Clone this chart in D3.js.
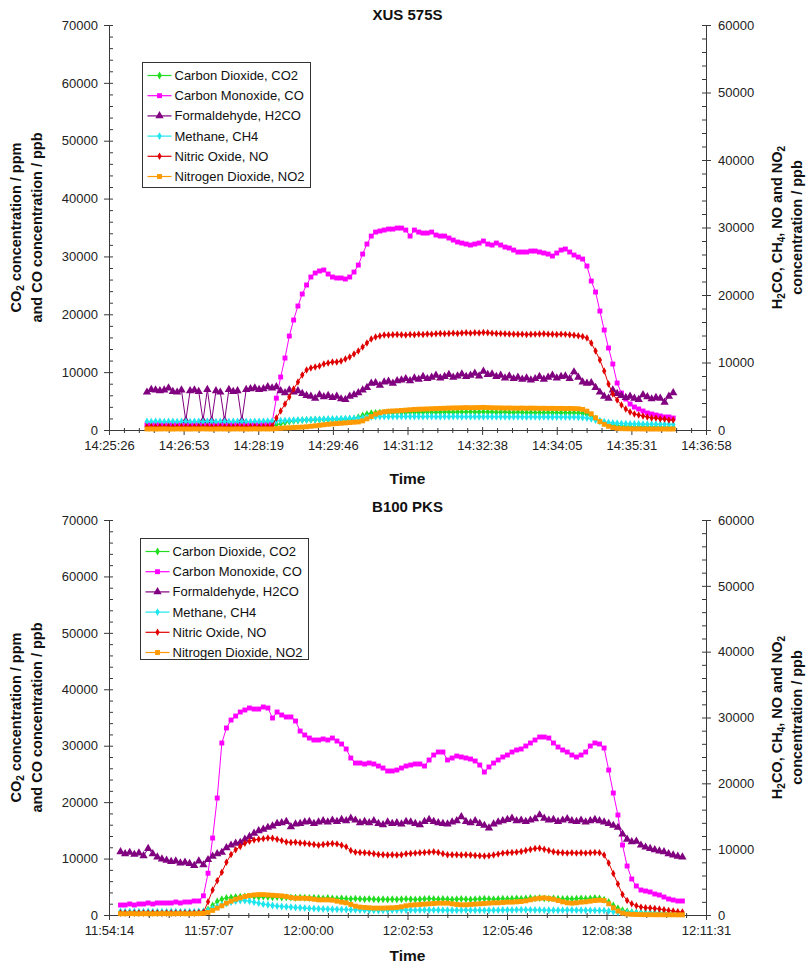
<!DOCTYPE html>
<html>
<head>
<meta charset="utf-8">
<script src="https://cdn.jsdelivr.net/npm/d3@7"></script>
<style>
  body { margin: 0; background: #fff; }
  svg { display: block; font-family: "Liberation Sans", Arial, sans-serif; }
</style>
</head>
<body>
<svg id="chart" width="810" height="970"></svg>
<script>
// ---------------- data ----------------
const seriesNames = ["Carbon Dioxide, CO2", "Carbon Monoxide, CO", "Formaldehyde, H2CO",
                     "Methane, CH4", "Nitric Oxide, NO", "Nitrogen Dioxide, NO2"];
const leftTicks = [0, 10000, 20000, 30000, 40000, 50000, 60000, 70000];
const rightTicks = [0, 10000, 20000, 30000, 40000, 50000, 60000];

// XUS 575S run (sampled every 5 s from 14:26:10)
const xusTitle = "XUS 575S";
const xusTimeLabels = ["14:25:26", "14:26:53", "14:28:19", "14:29:46", "14:31:12",
                       "14:32:38", "14:34:05", "14:35:31", "14:36:58"];
const xusStart = "14:26:10";
const xusStep = 5;
const xusCO2 = [500,520,510,500,520,530,510,500,520,510,
  500,520,510,530,500,510,520,500,510,520,
  500,510,530,520,510,500,520,510,530,600,
  900,1100,1300,1450,1550,1650,1700,1720,1750,1760,
  1780,1800,1780,1810,1800,1820,1850,1870,1950,2200,
  2500,2750,2900,2950,3000,2980,3020,3000,3050,3030,
  3000,3050,3080,3040,3060,3100,3070,3050,3080,3100,
  3120,3080,3100,3130,3100,3150,3120,3100,3140,3120,
  3100,3080,3060,3090,3050,3030,3060,3040,3010,3030,
  3000,3020,2990,3010,2980,3000,2970,2990,2960,2980,
  2950,2900,2700,2400,2000,1500,1200,1000,850,750,
  680,620,600,580,560,540,520,500,480,470,
  460,450,440];
const xusCO = [900,880,920,900,870,900,910,890,900,930,
  900,880,900,910,900,890,920,900,880,900,
  910,900,920,900,890,900,910,930,950,1200,
  5500,9160,12440,16240,19010,21430,23500,25060,26440,27130,
  27480,27650,26960,26440,26270,26270,26090,26440,27300,28510,
  30410,32140,33520,34210,34390,34560,34730,34730,34900,34900,
  34560,33520,34560,34210,34040,34040,34210,33700,33520,33520,
  33180,32830,32490,32310,32140,31970,32140,32310,32660,32140,
  31970,32310,31970,31620,31450,31100,30760,30760,30760,30930,
  30930,30760,30590,30410,30070,30590,31100,31280,30760,30240,
  29890,29550,28340,25750,23850,20560,17280,14170,11400,8120,
  6390,5360,4490,3970,3630,3280,2940,2760,2590,2420,
  2250,2250,2070];
const xusH2CO = [5600,6000,5900,5800,5900,6200,5700,5600,5900,1400,
  5800,5900,5700,1400,6000,1400,5800,5600,1400,6000,
  5700,5800,1400,6000,6100,6200,6000,6100,6400,6200,
  6400,5800,5500,5900,5600,5800,5400,5100,5000,4700,
  5200,4900,5100,4800,5000,4600,4500,5000,5200,5500,
  5900,6300,6900,7000,6600,7100,7200,6900,7300,7400,
  7600,7300,7700,7500,7900,7600,7800,8100,7700,7900,
  8200,7800,8000,8300,7900,8100,8400,8000,8700,8200,
  8300,7900,8100,7700,8000,7600,7800,7500,7700,7400,
  7600,7900,7500,7800,8100,7700,7900,8000,7600,8600,
  7800,7100,6900,7000,6300,5600,5000,4700,5900,5400,
  5100,4800,5000,4700,4500,5200,4900,4600,4800,4700,
  4100,5000,5500];
const xusCH4 = [1250,1230,1280,1250,1220,1260,1250,1240,1270,1250,
  1230,1260,1250,1240,1280,1250,1230,1260,1250,1240,
  1260,1250,1270,1250,1240,1260,1250,1280,1300,1320,
  1350,1380,1400,1420,1450,1470,1500,1520,1540,1560,
  1580,1600,1620,1640,1650,1670,1690,1700,1720,1750,
  1800,1900,1950,1980,2000,2000,1980,2000,2010,1990,
  2000,1990,2010,2000,1980,1990,2000,1980,1970,1990,
  1980,2000,1990,1970,1980,1960,1980,1970,1960,1980,
  1960,1950,1970,1960,1940,1950,1960,1940,1930,1950,
  1940,1930,1950,1930,1920,1930,1910,1920,1900,1910,
  1890,1850,1780,1650,1480,1350,1220,1120,1050,990,
  950,920,900,890,880,870,860,860,850,850,
  840,840,830];
const xusNO = [500,520,480,510,500,530,490,500,510,520,
  500,480,510,500,520,500,490,510,500,520,
  500,510,490,500,520,510,500,520,530,600,
  1780,2810,3850,4890,6070,7110,8150,8890,9180,9330,
  9480,9770,9920,10070,10070,10220,10520,10810,11260,11700,
  12290,12880,13480,13770,13920,14070,14070,14100,14150,14100,
  14070,14150,14100,14200,14150,14220,14200,14250,14300,14250,
  14300,14350,14300,14380,14400,14350,14420,14380,14450,14400,
  14350,14300,14280,14250,14220,14200,14180,14200,14150,14180,
  14200,14220,14250,14200,14180,14150,14200,14170,14100,14050,
  13950,13850,13630,12880,11700,10370,8740,6810,5330,4440,
  3700,3110,2670,2370,2220,2070,1930,1780,1780,1630,
  1630,1480,1480];
const xusNO2 = [150,160,140,150,170,150,140,160,150,150,
  140,160,150,170,150,140,150,160,150,140,
  150,160,150,140,150,170,150,160,150,160,
  200,250,300,330,370,400,430,480,550,620,
  700,780,850,900,950,1000,1050,1100,1150,1200,
  1350,1650,2000,2350,2550,2700,2780,2820,2850,2900,
  2950,3000,3050,3080,3100,3120,3150,3180,3200,3220,
  3250,3270,3280,3300,3320,3300,3310,3330,3350,3320,
  3300,3280,3270,3250,3260,3240,3230,3250,3220,3240,
  3230,3210,3220,3200,3210,3190,3200,3180,3190,3170,
  3150,3050,2800,2400,1800,1250,850,550,350,250,
  200,180,170,160,160,150,150,140,150,140,
  150,140,150];

// B100 PKS run (sampled every 8 s from 11:54:34)
const pksTitle = "B100 PKS";
const pksTimeLabels = ["11:54:14", "11:57:07", "12:00:00", "12:02:53",
                       "12:05:46", "12:08:38", "12:11:31"];
const pksStart = "11:54:34";
const pksStep = 8;
const pksCO2 = [400,420,380,400,410,390,400,420,400,380,
  400,410,400,390,420,400,410,450,600,1000,
  1700,2400,2800,3000,3100,3200,3250,3300,3300,3250,
  3200,3250,3200,3150,3200,3100,3150,3100,3050,3100,
  3050,3000,3050,3000,2950,3000,2950,2900,2950,2900,
  2850,2900,2850,2800,2850,2800,2750,2800,2750,2800,
  2750,2800,2850,2800,2750,2800,2850,2900,2850,2800,
  2850,2800,2750,2800,2850,2800,2750,2800,2850,2900,
  2850,2800,2850,2900,2850,2900,2950,2900,2950,3000,
  2950,3000,2950,2900,2950,2900,2850,2900,2850,2900,
  2950,2900,2950,3000,2950,2700,2300,1700,1200,850,
  650,500,450,420,400,380,370,350,340,330,
  320,310,300];
const pksCO = [1770,1770,1950,1770,1950,1950,2130,1950,2130,2130,
  2130,2130,2300,2130,2300,2300,2480,2480,3400,7400,
  13640,20730,30480,33140,34550,35260,35970,36330,36680,36500,
  36500,36860,36680,34910,35970,35440,35090,35090,34380,32600,
  31900,31360,31010,31010,31190,31010,31360,30830,30300,29420,
  27820,26930,26930,26760,26930,26760,26400,26050,25520,25520,
  25690,26050,26400,26580,26760,26760,26400,27470,28350,28880,
  28880,27470,27820,28170,28000,27820,27640,27290,26580,25340,
  26230,26930,27470,28000,28350,28880,29240,29420,29950,30480,
  31010,31540,31540,31360,30480,29770,29240,28880,28350,28000,
  28350,28880,29950,30480,30300,29590,25690,21620,17720,12400,
  8680,6380,5140,4430,4250,4080,3720,3540,3190,2840,
  2660,2480,2480];
const pksH2CO = [9600,9300,9500,9200,9400,9000,10100,9300,8800,8500,
  8300,8100,8200,7900,8000,7800,7500,8200,7600,8400,
  8900,9300,9500,10200,10600,10900,11000,11500,11900,12400,
  12800,13000,13300,13500,13900,14000,14200,13400,13800,13900,
  14100,14200,13900,14100,14300,14100,14400,14200,14500,14300,
  14700,14400,14000,14200,14000,14300,13900,13700,14100,13900,
  14000,13800,14200,14100,13900,13700,14200,14500,14200,14000,
  13900,13800,14100,14300,14900,14200,14000,14300,13900,13600,
  13200,13800,14100,14300,14500,14700,14300,14400,14200,14400,
  14600,15200,14700,14400,14500,14200,14400,14600,14300,14200,
  14400,14100,14300,14500,14300,14100,13900,13600,13300,12300,
  11500,11100,11200,10600,10300,10100,9900,9700,9600,9300,
  9100,8900,8800];
const pksCH4 = [550,500,520,540,500,510,530,500,520,510,
  500,530,520,500,510,520,500,530,550,700,
  1000,1300,1550,1750,1950,2100,2200,2200,2100,1950,
  1800,1650,1550,1450,1350,1300,1250,1200,1150,1100,
  1050,1000,980,950,920,900,880,860,850,830,
  800,780,760,740,720,700,690,700,720,740,
  760,770,760,750,740,750,760,770,760,750,
  740,730,720,730,740,750,740,730,720,710,
  720,730,740,750,760,770,780,790,800,780,
  760,750,740,730,720,730,740,750,760,740,
  730,720,710,700,690,680,600,500,420,380,
  350,340,330,320,310,300,300,290,280,280,
  270,260,250];
const pksNO = [300,320,280,300,310,290,300,320,300,280,
  300,310,300,290,320,300,310,350,400,2000,
  3800,5200,6500,8000,9200,9900,10400,10900,11200,11400,
  11500,11600,11700,11650,11500,11300,11100,11000,11050,10950,
  10900,10800,10700,10600,10700,10800,10850,10800,10600,10350,
  9800,9550,9500,9450,9400,9300,9200,9150,9100,9150,
  9100,9150,9300,9350,9400,9450,9500,9550,9600,9500,
  9300,9150,9150,9150,9100,9150,9100,9050,9000,8950,
  9000,9100,9250,9400,9450,9500,9550,9650,9800,9950,
  10100,10150,10000,9800,9600,9500,9450,9400,9450,9400,
  9450,9400,9450,9500,9450,9100,7900,6300,4700,3100,
  2200,1700,1400,1200,1100,1050,1000,900,800,700,
  600,500,450];
const pksNO2 = [200,180,220,200,190,210,200,180,200,220,
  200,190,200,210,200,190,200,220,250,400,
  700,1050,1400,1800,2100,2400,2600,2800,2950,3050,
  3100,3100,3050,3000,2950,2900,2800,2650,2550,2550,
  2550,2500,2400,2300,2300,2300,2250,2100,1950,1850,
  1600,1350,1200,1150,1100,1050,1050,1050,1080,1100,
  1150,1250,1400,1500,1550,1600,1650,1700,1750,1800,
  1800,1800,1700,1600,1550,1550,1600,1650,1700,1750,
  1800,1850,1850,1900,1950,1950,2000,2050,2150,2300,
  2450,2550,2600,2500,2400,2200,2000,1850,1800,1850,
  1950,2000,2100,2200,2250,2200,1700,1100,600,300,
  150,100,80,60,50,50,40,40,30,30,
  30,20,20];

// ---------------- styles ----------------
const seriesStyle = [
  { color: "#22dd22", shape: d3.symbolDiamond,  size: 18, axis: "L" },
  { color: "#ff00ff", shape: d3.symbolSquare,   size: 24, axis: "L" },
  { color: "#800080", shape: d3.symbolTriangle, size: 30, axis: "R" },
  { color: "#1fe6ee", shape: d3.symbolDiamond,  size: 18, axis: "R" },
  { color: "#e00000", shape: d3.symbolDiamond,  size: 16, axis: "R" },
  { color: "#ff9a00", shape: d3.symbolSquare,   size: 24, axis: "R" }
];
const axisColor = "#3a3a3a";
const textColor = "#222";

const toSec = s => { const [h, m, sec] = s.split(":").map(Number); return h * 3600 + m * 60 + sec; };

const svg = d3.select("#chart");

function drawChart(cfg) {
  const { title, timeLabels, start, step, series, top, bottom, left, right, legend, titleY, timeY } = cfg;
  const g = svg.append("g");

  const t0 = toSec(timeLabels[0]);
  const t1 = toSec(timeLabels[timeLabels.length - 1]);
  const x = d3.scaleLinear().domain([t0, t1]).range([left, right]);
  const yL = d3.scaleLinear().domain([0, 70000]).range([bottom, top]);
  const yR = d3.scaleLinear().domain([0, 60000]).range([bottom, top]);

  const nMaj = timeLabels.length - 1;
  const majT = d3.range(nMaj + 1).map(k => t0 + k * (t1 - t0) / nMaj);
  const minT = d3.range(nMaj * 5 + 1).map(k => t0 + k * (t1 - t0) / (nMaj * 5)).filter((d, i) => i % 5 !== 0);
  const minL = d3.range(0, 70001, 2000).filter(v => v % 10000 !== 0);
  const minR = d3.range(0, 60001, 2000).filter(v => v % 10000 !== 0);

  const style = sel => {
    sel.selectAll("path.domain").attr("stroke", axisColor);
    sel.selectAll(".tick line").attr("stroke", axisColor);
    sel.selectAll(".tick text").attr("fill", textColor).attr("font-size", 13);
  };

  // x axis
  const gx = g.append("g").attr("transform", `translate(0,${bottom})`);
  gx.append("g").call(d3.axisBottom(x).tickValues(minT).tickSize(3).tickFormat("")).call(style)
    .select("path.domain").remove();
  gx.append("g").call(d3.axisBottom(x).tickValues(minT).tickSize(-2).tickFormat("")).call(style)
    .select("path.domain").remove();
  gx.append("g").call(d3.axisBottom(x).tickValues(majT).tickSize(-3).tickFormat("")).call(style)
    .select("path.domain").remove();
  gx.append("g").call(d3.axisBottom(x).tickValues(majT).tickSizeInner(5).tickSizeOuter(0)
      .tickPadding(6).tickFormat((d, i) => timeLabels[i])).call(style);

  // left axis
  const gl = g.append("g").attr("transform", `translate(${left},0)`);
  gl.append("g").call(d3.axisLeft(yL).tickValues(minL).tickSize(-4).tickFormat("")).call(style)
    .select("path.domain").remove();
  gl.append("g").call(d3.axisLeft(yL).tickValues(leftTicks).tickSize(-4).tickFormat("")).call(style)
    .select("path.domain").remove();
  gl.append("g").call(d3.axisLeft(yL).tickValues(leftTicks).tickSizeInner(5).tickSizeOuter(0)
      .tickPadding(6).tickFormat(d3.format("d"))).call(style);

  // right axis
  const gr = g.append("g").attr("transform", `translate(${right},0)`);
  gr.append("g").call(d3.axisRight(yR).tickValues(minR).tickSize(-4).tickFormat("")).call(style)
    .select("path.domain").remove();
  gr.append("g").call(d3.axisRight(yR).tickValues(rightTicks).tickSize(-4).tickFormat("")).call(style)
    .select("path.domain").remove();
  gr.append("g").call(d3.axisRight(yR).tickValues(rightTicks).tickSizeInner(5).tickSizeOuter(0)
      .tickPadding(7).tickFormat(d3.format("d"))).call(style);

  g.selectAll(".tick text").attr("font-family", "'Liberation Sans', Arial, sans-serif");

  // series
  const ts = toSec(start);
  series.forEach((vals, si) => {
    const st = seriesStyle[si];
    const y = st.axis === "L" ? yL : yR;
    const pts = vals.map((v, i) => [x(ts + i * step), y(v)]);
    g.append("path")
      .attr("d", d3.line()(pts))
      .attr("fill", "none")
      .attr("stroke", st.color)
      .attr("stroke-width", 1);
    g.append("g").selectAll("path")
      .data(pts)
      .join("path")
      .attr("transform", d => `translate(${d[0]},${d[1]})`)
      .attr("d", d3.symbol().type(st.shape).size(st.size))
      .attr("fill", st.color);
  });

  // title
  g.append("text").attr("x", (left + right) / 2).attr("y", titleY)
    .attr("text-anchor", "middle").attr("font-weight", "bold").attr("font-size", 15)
    .attr("fill", "#111").text(title);

  // x title
  g.append("text").attr("x", (left + right) / 2).attr("y", timeY)
    .attr("text-anchor", "middle").attr("font-weight", "bold").attr("font-size", 15.5)
    .attr("fill", "#111").text("Time");

  const yc = (top + bottom) / 2;
  const sub = (t, s) => {
    t.append("tspan").attr("font-size", 10).attr("dy", 3).text(s);
    return t;
  };

  // left axis title
  const lt1 = g.append("text").attr("transform", `translate(21,${yc}) rotate(-90)`)
    .attr("text-anchor", "middle").attr("font-weight", "bold").attr("font-size", 14.5).attr("fill", "#111");
  lt1.append("tspan").text("CO");
  sub(lt1, "2");
  lt1.append("tspan").attr("dy", -3).text(" concentration / ppm");
  g.append("text").attr("transform", `translate(42,${yc}) rotate(-90)`)
    .attr("text-anchor", "middle").attr("font-weight", "bold").attr("font-size", 14.5).attr("fill", "#111")
    .text("and CO concentration / ppb");

  // right axis title
  const rt1 = g.append("text").attr("transform", `translate(782,${yc}) rotate(-90)`)
    .attr("text-anchor", "middle").attr("font-weight", "bold").attr("font-size", 14.5).attr("fill", "#111");
  rt1.append("tspan").text("H");
  sub(rt1, "2");
  rt1.append("tspan").attr("dy", -3).text("CO, CH");
  sub(rt1, "4");
  rt1.append("tspan").attr("dy", -3).text(", NO and NO");
  sub(rt1, "2");
  g.append("text").attr("transform", `translate(802,${yc}) rotate(-90)`)
    .attr("text-anchor", "middle").attr("font-weight", "bold").attr("font-size", 14.5).attr("fill", "#111")
    .text("concentration / ppb");

  // legend
  const lg = g.append("g").attr("transform", `translate(${legend.x},${legend.y})`);
  lg.append("rect").attr("width", legend.w).attr("height", legend.h)
    .attr("fill", "#fff").attr("stroke", "#333").attr("stroke-width", 1);
  seriesNames.forEach((name, i) => {
    const st = seriesStyle[i];
    const cy = 13 + i * 20.2;
    lg.append("line").attr("x1", 5).attr("x2", 29).attr("y1", cy).attr("y2", cy)
      .attr("stroke", st.color).attr("stroke-width", 1.2);
    lg.append("path").attr("transform", `translate(17,${cy})`)
      .attr("d", d3.symbol().type(st.shape).size(st.size)).attr("fill", st.color);
    lg.append("text").attr("x", 32).attr("y", cy).attr("dy", "0.35em")
      .attr("font-size", 13).attr("fill", "#111").text(name);
  });
}

drawChart({
  title: xusTitle, timeLabels: xusTimeLabels, start: xusStart, step: xusStep,
  series: [xusCO2, xusCO, xusH2CO, xusCH4, xusNO, xusNO2],
  top: 25, bottom: 430, left: 109, right: 706, titleY: 20, timeY: 484,
  legend: { x: 142.5, y: 62.5, w: 168, h: 125 }
});
drawChart({
  title: pksTitle, timeLabels: pksTimeLabels, start: pksStart, step: pksStep,
  series: [pksCO2, pksCO, pksH2CO, pksCH4, pksNO, pksNO2],
  top: 520, bottom: 915, left: 109, right: 706, titleY: 512, timeY: 961,
  legend: { x: 140.5, y: 538.5, w: 168, h: 121 }
});
</script>
</body>
</html>
